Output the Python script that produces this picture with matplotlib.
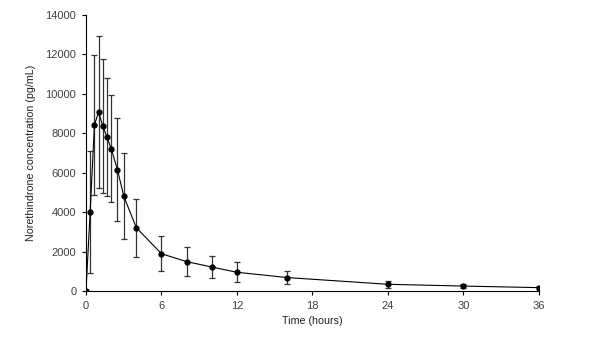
import matplotlib.pyplot as plt

# time points (hours), mean concentration and SD (pg/mL)
time_h = [0, 0.33, 0.67, 1, 1.33, 1.67, 2, 2.5, 3, 4, 6, 8, 10, 12, 16, 24, 30, 36]
conc = [0, 4000, 8420, 9080, 8370, 7800, 7220, 6160, 4810, 3210, 1890, 1490, 1215, 950, 680, 340, 250, 170]
sd = [0, 3110, 3560, 3870, 3390, 3000, 2720, 2600, 2190, 1470, 900, 730, 580, 510, 330, 180, 110, 70]

x_ticks = [0, 6, 12, 18, 24, 30, 36]
y_ticks = [0, 2000, 4000, 6000, 8000, 10000, 12000, 14000]

plt.rcParams['font.family'] = ['Liberation Sans', 'DejaVu Sans']

fig = plt.figure(figsize=(5.98, 3.54), dpi=100)
ax = fig.add_axes([0.1438, 0.178, 0.7575, 0.7796])

ax.errorbar(time_h, conc, yerr=sd, fmt='-', color='black', lw=0.8,
            marker='o', markersize=3.5, ecolor='#333333', elinewidth=0.9,
            capsize=2, capthick=0.9)

ax.set_xlim(0, 36)
ax.set_ylim(0, 14000)
ax.set_xticks(x_ticks)
ax.set_yticks(y_ticks)
ax.spines['top'].set_visible(False)
ax.spines['right'].set_visible(False)
for s in ('left', 'bottom'):
    ax.spines[s].set_linewidth(0.8)
ax.tick_params(direction='out', length=3, width=0.8, labelsize=8,
               labelcolor='#404040', pad=4)

ax.set_xlabel('Time (hours)', fontsize=7.7, color='#202020', labelpad=4)
ax.set_ylabel('Norethindrone concentration (pg/mL)', fontsize=7.7,
              color='#202020', labelpad=7)

fig.savefig('out.png', dpi=100)
